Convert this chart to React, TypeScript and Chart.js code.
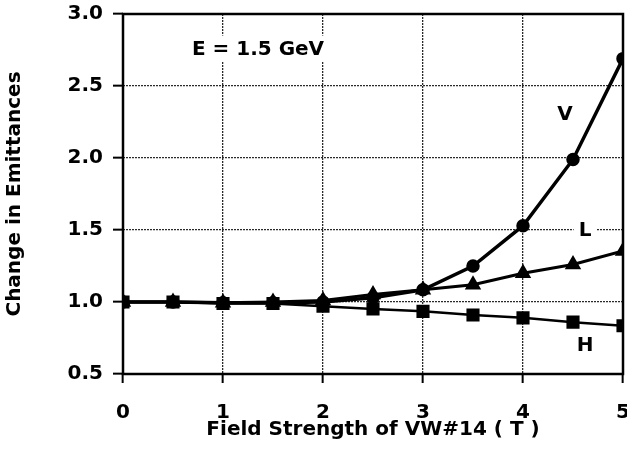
import React, { useEffect, useRef } from "react";
import { Chart, registerables } from "chart.js";

Chart.register(...registerables);

// ---- data ----
const fieldStrength = [0, 0.5, 1, 1.5, 2, 2.5, 3, 3.5, 4, 4.5, 5];
const vValues = [1.0, 1.0, 0.995, 0.995, 1.0, 1.03, 1.085, 1.25, 1.53, 1.99, 2.69];
const lValues = [1.0, 1.0, 0.995, 1.0, 1.01, 1.052, 1.085, 1.12, 1.2, 1.26, 1.355];
const hValues = [1.0, 1.0, 0.99, 0.99, 0.97, 0.952, 0.935, 0.91, 0.89, 0.86, 0.835];
const xTickValues = [0, 1, 2, 3, 4, 5];
const yTickLabels = ["0.5", "1.0", "1.5", "2.0", "2.5", "3.0"];

const seriesNames = ["V", "L", "H"];
const annotationTexts = ["E = 1.5 GeV", "V", "L", "H"];
// label anchors expressed in data units
const annotationX = [1.35, 4.42, 4.62, 4.62];
const annotationY = [2.76, 2.31, 1.5, 0.7];

const FONT = "'DejaVu Sans', Arial, sans-serif";

function toPoints(values: number[]) {
  return values.map((v, i) => ({ x: fieldStrength[i], y: v }));
}

const framePlugin = {
  id: "frameAndLabels",
  afterDatasetsDraw(chart: any) {
    const { ctx, chartArea, scales } = chart;
    ctx.save();
    ctx.font = `bold 20px ${FONT}`;
    ctx.textAlign = "center";
    ctx.textBaseline = "middle";
    annotationTexts.forEach((t, i) => {
      const px = scales.x.getPixelForValue(annotationX[i]);
      const py = scales.y.getPixelForValue(annotationY[i]);
      const w = ctx.measureText(t).width;
      ctx.fillStyle = "#ffffff";
      ctx.fillRect(px - w / 2 - 5, py - 13, w + 10, 26);
      ctx.fillStyle = "#000000";
      ctx.fillText(t, px, py + 1);
    });
    ctx.strokeStyle = "#000";
    ctx.lineWidth = 2.5;
    ctx.strokeRect(
      chartArea.left,
      chartArea.top,
      chartArea.right - chartArea.left,
      chartArea.bottom - chartArea.top
    );
    ctx.restore();
  },
};

export default function App() {
  const ref = useRef<HTMLCanvasElement>(null);

  useEffect(() => {
    if (!ref.current) return;
    const gridColor = (ctx: any) => {
      const v = ctx.tick ? ctx.tick.value : null;
      const scale = ctx.scale;
      if (v === scale.min || v === scale.max) return "rgba(0,0,0,0)";
      return "#2a2a2a";
    };
    const chart = new Chart(ref.current, {
      type: "line",
      data: {
        datasets: [
          {
            label: seriesNames[0],
            data: toPoints(vValues),
            borderColor: "#000",
            backgroundColor: "#000",
            borderWidth: 3.5,
            pointStyle: "circle",
            pointRadius: 5,
            tension: 0,
          },
          {
            label: seriesNames[1],
            data: toPoints(lValues),
            borderColor: "#000",
            backgroundColor: "#000",
            borderWidth: 3,
            pointStyle: "triangle",
            pointRadius: 6.5,
            tension: 0,
          },
          {
            label: seriesNames[2],
            data: toPoints(hValues),
            borderColor: "#000",
            backgroundColor: "#000",
            borderWidth: 2.5,
            pointStyle: "rect",
            pointRadius: 7.5,
            tension: 0,
          },
        ],
      },
      options: {
        responsive: false,
        animation: false,
        events: [],
        layout: { autoPadding: false, padding: { top: 14, right: 4, left: 0, bottom: 0 } },
        plugins: {
          legend: { display: false },
          tooltip: { enabled: false },
        },
        scales: {
          x: {
            type: "linear",
            min: 0,
            max: 5,
            afterFit: (s: any) => {
              s.height = 75;
              s.paddingLeft = 0;
              s.paddingRight = 0;
            },
            afterBuildTicks: (s: any) => {
              s.ticks = xTickValues.map((v) => ({ value: v }));
            },
            ticks: {
              color: "#000",
              font: { family: FONT, size: 20, weight: "bold" },
              padding: 18,
              maxRotation: 0,
              callback: (v: any) => String(v),
            },
            grid: {
              color: gridColor,
              lineWidth: 1.3,
              tickLength: 9,
              tickColor: "#000",
              tickWidth: 2,
            },
            border: { display: false, dash: [2, 1] },
            title: {
              display: true,
              text: "Field Strength of VW#14 ( T )",
              color: "#000",
              font: { family: FONT, size: 20, weight: "bold" },
              padding: { top: 0, bottom: 7 },
            },
          },
          y: {
            type: "linear",
            min: 0.5,
            max: 3.0,
            afterFit: (s: any) => {
              s.width = 123;
              s.paddingTop = 0;
              s.paddingBottom = 0;
            },
            afterBuildTicks: (s: any) => {
              s.ticks = yTickLabels.map((t) => ({ value: parseFloat(t) }));
            },
            ticks: {
              color: "#000",
              font: { family: FONT, size: 20, weight: "bold" },
              padding: 10,
              callback: (v: any) => Number(v).toFixed(1),
            },
            grid: {
              color: gridColor,
              lineWidth: 1.3,
              tickLength: 10,
              tickColor: "#000",
              tickWidth: 2,
            },
            border: { display: false, dash: [2, 1] },
            title: {
              display: true,
              text: "Change in Emittances",
              color: "#000",
              font: { family: FONT, size: 20, weight: "bold" },
              padding: { top: 3, bottom: 0 },
            },
          },
        },
      },
      plugins: [framePlugin],
    } as any);
    return () => chart.destroy();
  }, []);

  return (
    <canvas
      ref={ref}
      width={627}
      height={449}
      style={{ position: "fixed", left: 0, top: 0, background: "#fff" }}
    />
  );
}
